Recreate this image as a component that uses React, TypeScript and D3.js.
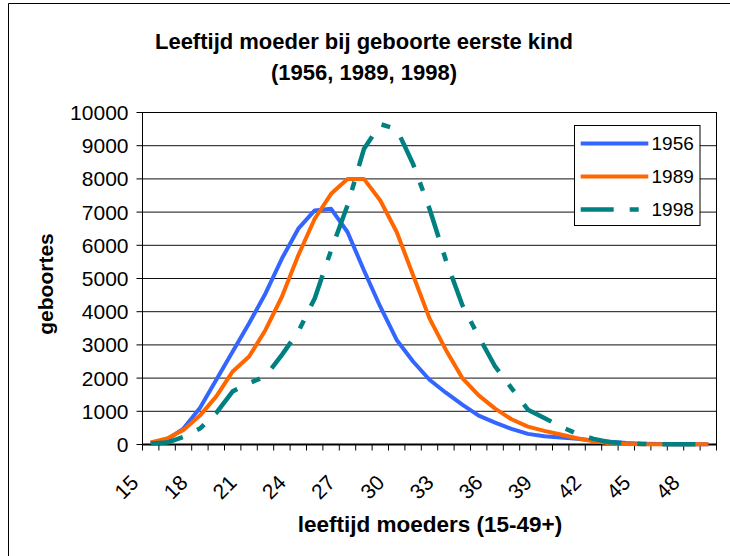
import React from 'react';
import * as d3 from 'd3';

const ages = [15, 16, 17, 18, 19, 20, 21, 22, 23, 24, 25, 26, 27, 28, 29, 30, 31, 32, 33, 34, 35, 36, 37, 38, 39, 40, 41, 42, 43, 44, 45, 46, 47, 48, 49];
const ageTickLabels = [15, 18, 21, 24, 27, 30, 33, 36, 39, 42, 45, 48];

const births1956 = [50, 150, 480, 1100, 1950, 2800, 3650, 4550, 5600, 6500, 7050, 7100, 6400, 5250, 4150, 3150, 2500, 1950, 1560, 1200, 870, 660, 470, 320, 250, 210, 170, 120, 80, 45, 25, 15, 10, 5, 5];
const births1989 = [60, 180, 440, 870, 1450, 2200, 2650, 3450, 4450, 5700, 6800, 7550, 8000, 8000, 7350, 6400, 5100, 3800, 2850, 2000, 1480, 1080, 760, 540, 410, 300, 190, 100, 35, 15, 10, 5, 5, 5, 5];
const births1998 = [30, 60, 230, 480, 950, 1600, 1850, 2050, 2700, 3400, 4400, 5850, 7200, 8900, 9650, 9500, 8450, 7100, 5550, 4200, 3250, 2350, 1700, 1050, 800, 540, 320, 170, 70, 30, 15, 5, 5, 5, 5];

const seriesNames = ['1956', '1989', '1998'];
const yTickValues = [0, 1000, 2000, 3000, 4000, 5000, 6000, 7000, 8000, 9000, 10000];

const titleLines = ['Leeftijd moeder bij geboorte eerste kind', '(1956, 1989, 1998)'];
const xTitle = 'leeftijd moeders (15-49+)';
const yTitle = 'geboortes';

const FONT = '"Liberation Sans", Arial, sans-serif';

export default function App() {
  const W = 730, H = 556;
  const left = 142.5, right = 716.5, top = 112.5, bottom = 444.5;

  const x = d3.scaleBand<number>().domain(ages).range([left, right]).padding(0);
  const bw = x.bandwidth();
  const cx = (a: number) => (x(a) as number) + bw / 2;
  const y = d3.scaleLinear().domain([0, 10000]).range([bottom, top]);

  const line = d3.line<number>()
    .x((_, i) => cx(ages[i]))
    .y((d) => y(d));

  const series = [
    { name: seriesNames[0], values: births1956, color: '#3366FF', dash: undefined as string | undefined, width: 4 },
    { name: seriesNames[1], values: births1989, color: '#FF6600', dash: undefined as string | undefined, width: 4 },
    { name: seriesNames[2], values: births1998, color: '#008080', dash: '33 16 9 16', width: 4.5 },
  ];

  const boundaries = [...ages.map((a) => x(a) as number), right];

  // legend
  const lg = { x: 574.5, y: 125.5, w: 125.5, h: 100 };
  const rowY = [143.5, 176.5, 209.5];

  return (
    <svg width={W} height={H} style={{ position: 'absolute', left: 0, top: 0, background: '#fff' }} fontFamily={FONT}>
      <rect x={0} y={0} width={W} height={H} fill="#fff" />
      {/* outer chart border */}
      <path d={`M8.5,${H + 5} L8.5,3.5 L${W + 5},3.5`} fill="none" stroke="#000" strokeWidth={1} />

      {/* title */}
      {titleLines.map((t, i) => (
        <text key={t} x={364} y={49 + i * 31} textAnchor="middle" fontSize={22} fontWeight="bold" fill="#000">{t}</text>
      ))}

      {/* gridlines */}
      {yTickValues.map((v) => (
        <line key={v} x1={left} x2={right} y1={y(v)} y2={y(v)} stroke="#111" strokeWidth={1} />
      ))}
      {/* plot border */}
      <rect x={left} y={top} width={right - left} height={bottom - top} fill="none" stroke="#000" strokeWidth={1} />

      {/* y axis ticks & labels */}
      {yTickValues.map((v) => (
        <g key={'yt' + v}>
          <line x1={left - 6} x2={left} y1={y(v)} y2={y(v)} stroke="#000" strokeWidth={1} />
          <text x={left - 14} y={y(v)} dy="0.36em" textAnchor="end" fontSize={21} fill="#000">{v}</text>
        </g>
      ))}

      {/* x axis */}
      <line x1={left} x2={right} y1={bottom} y2={bottom} stroke="#000" strokeWidth={2} />
      {boundaries.map((b, i) => (
        <line key={'xt' + i} x1={b} x2={b} y1={bottom} y2={bottom + 6} stroke="#000" strokeWidth={1} />
      ))}
      {ageTickLabels.map((a) => {
        const px = cx(a) - 11;
        const py = 484;
        return (
          <text key={'xl' + a} x={px} y={py} textAnchor="end" fontSize={21} fill="#000" transform={`rotate(-45 ${px} ${py})`}>{a}</text>
        );
      })}

      {/* series */}
      {series.map((s) => (
        <path key={s.name} d={line(s.values) || ''} fill="none" stroke={s.color} strokeWidth={s.width}
          strokeDasharray={s.dash} strokeLinejoin="round" strokeLinecap="butt" />
      ))}

      {/* axis titles */}
      <text x={430} y={532} textAnchor="middle" fontSize={22.5} fontWeight="bold" fill="#000">{xTitle}</text>
      <text transform="translate(53,284) rotate(-90)" textAnchor="middle" fontSize={21} fontWeight="bold" fill="#000">{yTitle}</text>

      {/* legend */}
      <rect x={lg.x} y={lg.y} width={lg.w} height={lg.h} fill="#fff" stroke="#000" strokeWidth={1} />
      {series.map((s, i) => (
        <g key={'lg' + s.name}>
          <line x1={580.7} x2={648.3} y1={rowY[i]} y2={rowY[i]} stroke={s.color} strokeWidth={s.width}
            strokeDasharray={s.dash} />
          <text x={651.5} y={rowY[i]} dy="0.36em" fontSize={19} fill="#000">{s.name}</text>
        </g>
      ))}
    </svg>
  );
}
